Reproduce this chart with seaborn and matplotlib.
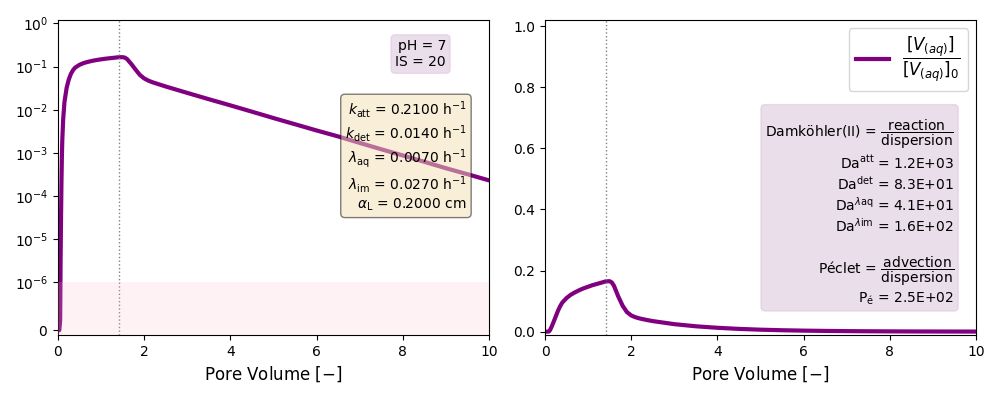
import numpy as np
import pandas as pd
import matplotlib
matplotlib.use("Agg")
import matplotlib.pyplot as plt
import seaborn as sns

# ---- data ----
pore_volume = [0.0, 0.03, 0.05, 0.06, 0.07, 0.08, 0.09, 0.10, 0.12, 0.15,
               0.20, 0.25, 0.30, 0.35, 0.40, 0.50, 0.60, 0.70, 0.80, 0.90,
               1.00, 1.10, 1.20, 1.30, 1.42, 1.50, 1.55, 1.60, 1.70, 1.80,
               1.90, 2.00, 2.10, 2.20, 2.35, 2.50, 3.00, 3.50, 4.00, 4.50, 5.00, 5.50,
               6.00, 6.50, 7.00, 7.50, 8.00, 8.50, 9.00, 9.50, 10.00]
conc_ratio = [0.0, 0.0, 2e-7, 3e-6, 3e-5, 2e-4, 8e-4, 2e-3, 6e-3, 0.015,
              0.032, 0.050, 0.068, 0.083, 0.095, 0.110, 0.121, 0.129, 0.136, 0.142,
              0.147, 0.152, 0.156, 0.160, 0.165, 0.165, 0.161, 0.150, 0.115, 0.085,
              0.064, 0.053, 0.047, 0.043, 0.0385, 0.0345, 0.0245, 0.0175, 0.0126, 0.0090, 0.0064, 0.0046,
              0.0033, 0.0024, 0.0017, 0.00121, 0.00087, 0.00062, 0.00044, 0.00032, 0.00023]
peak_pv = 1.42
detection_limit = 1e-6

param_labels = [r'$k_{\mathrm{att}}$', r'$k_{\mathrm{det}}$', r'$\lambda_{\mathrm{aq}}$',
                r'$\lambda_{\mathrm{im}}$', r'$\alpha_{\mathrm{L}}$']
param_values = ['0.2100 h$^{-1}$', '0.0140 h$^{-1}$', '0.0070 h$^{-1}$',
                '0.0270 h$^{-1}$', '0.2000 cm']
condition_text = 'pH = 7\nIS = 20'
da_labels = [r'Da$^{\mathrm{att}}$', r'Da$^{\mathrm{det}}$',
             r'Da$^{\lambda\mathrm{aq}}$', r'Da$^{\lambda\mathrm{im}}$']
da_values = ['1.2E+03', '8.3E+01', '4.1E+01', '1.6E+02']
peclet_value = '2.5E+02'

df = pd.DataFrame({'pv': pore_volume, 'c': conc_ratio})

fig, (ax1, ax2) = plt.subplots(1, 2, figsize=(10, 4), dpi=100)
fig.subplots_adjust(left=0.058, right=0.976, bottom=0.1625, top=0.95, wspace=0.13)

legend_label = r'$\dfrac{[V_{(aq)}]}{[V_{(aq)}]_0}$'

# ---- left: symlog ----
sns.lineplot(data=df, x='pv', y='c', ax=ax1, color='purple', lw=3,
             estimator=None, sort=False, legend=False)
ax1.set_yscale('symlog', linthresh=detection_limit)
ax1.set_xlim(0, 10)
ax1.set_ylim(-1e-7, 1.2)
ax1.axhspan(-1, detection_limit, color='pink', alpha=0.2, lw=0, zorder=3)
ax1.axvline(peak_pv, color='gray', ls=':', lw=1)
ax1.set_xlabel(r'Pore Volume [$-$]', fontsize=12)
ax1.set_ylabel('')
ax1.text(0.90, 0.892, condition_text, transform=ax1.transAxes, ha='right',
         va='center', multialignment='right', fontsize=10,
         bbox=dict(boxstyle='round', facecolor='thistle', edgecolor='thistle', alpha=0.5))
param_text = '\n'.join(f'{l} = {v}' for l, v in zip(param_labels, param_values))
ax1.text(0.949, 0.567, param_text, transform=ax1.transAxes, ha='right',
         va='center', multialignment='right', fontsize=10,
         bbox=dict(boxstyle='round', facecolor='wheat', alpha=0.5))

# ---- right: linear ----
sns.lineplot(data=df, x='pv', y='c', ax=ax2, color='purple', lw=3,
             estimator=None, sort=False, label=legend_label)
ax2.set_xlim(0, 10)
ax2.set_ylim(-0.011, 1.02)
ax2.axvline(peak_pv, color='gray', ls=':', lw=1)
ax2.set_xlabel(r'Pore Volume [$-$]', fontsize=12)
ax2.set_ylabel('')
ax2.legend(loc='upper right', fontsize=12)
lines = [r'Damköhler(II) = $\dfrac{\mathrm{reaction}}{\mathrm{dispersion}}$']
lines += [f'{l} = {v}' for l, v in zip(da_labels, da_values)]
lines += ['', r'Péclet = $\dfrac{\mathrm{advection}}{\mathrm{dispersion}}$',
          r'P$_{\mathrm{é}}$ = ' + peclet_value]
ax2.text(0.949, 0.389, '\n'.join(lines), transform=ax2.transAxes, ha='right',
         va='center', multialignment='right', fontsize=10,
         bbox=dict(boxstyle='round', facecolor='thistle', edgecolor='thistle', alpha=0.5))

fig.savefig('out.png', dpi=100)
